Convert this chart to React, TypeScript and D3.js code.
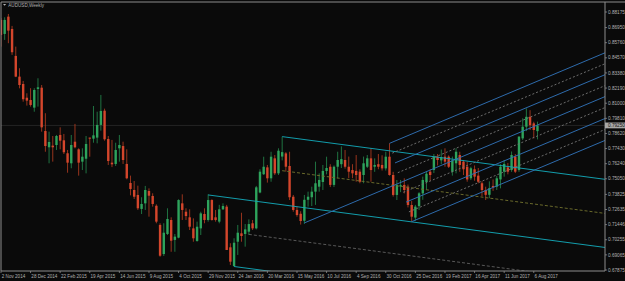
import React from 'react';
import * as d3 from 'd3';

const OPEN = [
  0.8755, 0.8645, 0.8781, 0.8684, 0.8472, 0.8309, 0.8251, 0.8143, 0.8125, 0.8065,
  0.8212, 0.8222, 0.7881, 0.7753, 0.7766, 0.7771, 0.7850, 0.7808, 0.7706, 0.7627,
  0.7797, 0.7737, 0.7640, 0.7663, 0.7829, 0.7821, 0.7829, 0.7929, 0.8041, 0.7818,
  0.7632, 0.7622, 0.7745, 0.7763, 0.7622, 0.7472, 0.7417, 0.7378, 0.7268, 0.7312,
  0.7409, 0.7370, 0.7293, 0.7142, 0.6913, 0.7071, 0.7181, 0.7024, 0.7042, 0.7312,
  0.7246, 0.7202, 0.7115, 0.7016, 0.7115, 0.7228, 0.7181, 0.7338, 0.7202, 0.7168,
  0.7265, 0.7286, 0.6966, 0.6819, 0.7010, 0.7076, 0.7071, 0.7089, 0.7155, 0.7115,
  0.7397, 0.7541, 0.7595, 0.7509, 0.7666, 0.7548, 0.7680, 0.7705, 0.7606, 0.7364,
  0.7260, 0.7230, 0.7175, 0.7340, 0.7360, 0.7404, 0.7443, 0.7480, 0.7567, 0.7600,
  0.7457, 0.7600, 0.7620, 0.7653, 0.7600, 0.7574, 0.7567, 0.7561, 0.7535, 0.7600,
  0.7666, 0.7600, 0.7620, 0.7614, 0.7587, 0.7679, 0.7535, 0.7378, 0.7445, 0.7457,
  0.7443, 0.7299, 0.7200, 0.7290, 0.7390, 0.7480, 0.7561, 0.7574, 0.7679, 0.7650,
  0.7679, 0.7679, 0.7560, 0.7627, 0.7692, 0.7640, 0.7600, 0.7509, 0.7580, 0.7530,
  0.7470, 0.7417, 0.7379, 0.7449, 0.7443, 0.7500, 0.7561, 0.7595, 0.7574, 0.7679,
  0.7574, 0.7823, 0.7915, 0.7993, 0.7941, 0.7880,
];
const HIGH = [
  0.8770, 0.8776, 0.8802, 0.8708, 0.8545, 0.8375, 0.8275, 0.8178, 0.8218, 0.8218,
  0.8296, 0.8243, 0.8021, 0.7876, 0.7842, 0.7850, 0.7910, 0.7858, 0.7732, 0.7850,
  0.7937, 0.7745, 0.7745, 0.7842, 0.7829, 0.8078, 0.8033, 0.8165, 0.8057, 0.7842,
  0.7811, 0.7789, 0.7850, 0.7797, 0.7737, 0.7530, 0.7488, 0.7451, 0.7360, 0.7449,
  0.7430, 0.7391, 0.7304, 0.7155, 0.7155, 0.7273, 0.7202, 0.7071, 0.7344, 0.7383,
  0.7273, 0.7265, 0.7194, 0.7168, 0.7246, 0.7273, 0.7383, 0.7344, 0.7260, 0.7300,
  0.7312, 0.7300, 0.6998, 0.7037, 0.7142, 0.7238, 0.7149, 0.7186, 0.7181, 0.7449,
  0.7580, 0.7679, 0.7614, 0.7718, 0.7692, 0.7745, 0.7836, 0.7715, 0.7718, 0.7378,
  0.7286, 0.7250, 0.7378, 0.7404, 0.7443, 0.7640, 0.7548, 0.7614, 0.7679, 0.7620,
  0.7610, 0.7718, 0.7760, 0.7732, 0.7680, 0.7620, 0.7692, 0.7580, 0.7680, 0.7692,
  0.7745, 0.7666, 0.7700, 0.7690, 0.7718, 0.7784, 0.7560, 0.7496, 0.7496, 0.7509,
  0.7460, 0.7330, 0.7300, 0.7400, 0.7522, 0.7560, 0.7580, 0.7700, 0.7700, 0.7735,
  0.7745, 0.7690, 0.7680, 0.7745, 0.7718, 0.7653, 0.7640, 0.7600, 0.7610, 0.7590,
  0.7485, 0.7443, 0.7485, 0.7500, 0.7527, 0.7620, 0.7653, 0.7630, 0.7720, 0.7700,
  0.7840, 0.7981, 0.8059, 0.8045, 0.7954, 0.7955,
];
const LOW = [
  0.8545, 0.8598, 0.8572, 0.8480, 0.8305, 0.8217, 0.8112, 0.8081, 0.8073, 0.8033,
  0.8073, 0.7876, 0.7718, 0.7627, 0.7640, 0.7732, 0.7737, 0.7700, 0.7553, 0.7588,
  0.7745, 0.7530, 0.7574, 0.7548, 0.7679, 0.7789, 0.7784, 0.7884, 0.7805, 0.7614,
  0.7597, 0.7606, 0.7640, 0.7622, 0.7501, 0.7375, 0.7346, 0.7260, 0.7228, 0.7260,
  0.7207, 0.7286, 0.7155, 0.6892, 0.6898, 0.7063, 0.6931, 0.6931, 0.7037, 0.7181,
  0.7181, 0.7102, 0.7010, 0.7010, 0.7063, 0.7155, 0.7168, 0.7176, 0.7168, 0.7155,
  0.7260, 0.6945, 0.6827, 0.6813, 0.6906, 0.7010, 0.6971, 0.7063, 0.7102, 0.7107,
  0.7391, 0.7535, 0.7475, 0.7482, 0.7535, 0.7535, 0.7650, 0.7561, 0.7338, 0.7246,
  0.7207, 0.7145, 0.7150, 0.7286, 0.7291, 0.7300, 0.7404, 0.7417, 0.7540, 0.7440,
  0.7440, 0.7509, 0.7590, 0.7585, 0.7510, 0.7510, 0.7482, 0.7470, 0.7470, 0.7590,
  0.7482, 0.7560, 0.7580, 0.7570, 0.7570, 0.7530, 0.7365, 0.7338, 0.7400, 0.7390,
  0.7280, 0.7168, 0.7175, 0.7260, 0.7340, 0.7420, 0.7490, 0.7550, 0.7610, 0.7620,
  0.7600, 0.7590, 0.7530, 0.7548, 0.7560, 0.7535, 0.7482, 0.7495, 0.7490, 0.7470,
  0.7367, 0.7338, 0.7353, 0.7410, 0.7417, 0.7430, 0.7522, 0.7540, 0.7560, 0.7550,
  0.7560, 0.7810, 0.7880, 0.7889, 0.7823, 0.7815,
];
const CLOSE = [
  0.8637, 0.8755, 0.8671, 0.8501, 0.8309, 0.8243, 0.8131, 0.8120, 0.8086, 0.8204,
  0.8225, 0.7910, 0.7763, 0.7795, 0.7753, 0.7842, 0.7805, 0.7714, 0.7632, 0.7771,
  0.7753, 0.7632, 0.7679, 0.7779, 0.7821, 0.7847, 0.7929, 0.8039, 0.7816, 0.7645,
  0.7619, 0.7732, 0.7771, 0.7653, 0.7509, 0.7425, 0.7364, 0.7273, 0.7307, 0.7417,
  0.7372, 0.7307, 0.7168, 0.6900, 0.7081, 0.7189, 0.7018, 0.7050, 0.7338, 0.7260,
  0.7212, 0.7128, 0.7037, 0.7128, 0.7233, 0.7181, 0.7338, 0.7181, 0.7181, 0.7265,
  0.7291, 0.6945, 0.6853, 0.7002, 0.7081, 0.7055, 0.7107, 0.7149, 0.7115, 0.7438,
  0.7561, 0.7600, 0.7509, 0.7679, 0.7548, 0.7726, 0.7715, 0.7600, 0.7360, 0.7260,
  0.7220, 0.7173, 0.7340, 0.7364, 0.7404, 0.7470, 0.7496, 0.7567, 0.7590, 0.7457,
  0.7600, 0.7653, 0.7660, 0.7600, 0.7561, 0.7548, 0.7535, 0.7482, 0.7627, 0.7666,
  0.7574, 0.7614, 0.7600, 0.7587, 0.7679, 0.7535, 0.7378, 0.7457, 0.7455, 0.7417,
  0.7299, 0.7207, 0.7286, 0.7391, 0.7496, 0.7545, 0.7535, 0.7679, 0.7653, 0.7675,
  0.7640, 0.7600, 0.7650, 0.7718, 0.7614, 0.7580, 0.7500, 0.7588, 0.7522, 0.7482,
  0.7417, 0.7379, 0.7432, 0.7438, 0.7509, 0.7600, 0.7622, 0.7561, 0.7692, 0.7561,
  0.7837, 0.7915, 0.7993, 0.7927, 0.7889, 0.7925,
];

const X_LABELS = [
  '2 Nov 2014', '28 Dec 2014', '22 Feb 2015', '19 Apr 2015', '14 Jun 2015', '9 Aug 2015',
  '4 Oct 2015', '29 Nov 2015', '24 Jan 2016', '20 Mar 2016', '15 May 2016', '10 Jul 2016',
  '4 Sep 2016', '30 Oct 2016', '25 Dec 2016', '19 Feb 2017', '16 Apr 2017', '11 Jun 2017',
  '6 Aug 2017',
];
const X_LABEL_STEP = 8;

const PRICE_TICKS = [
  '0.88175', '0.86950', '0.85760', '0.84570', '0.83380', '0.82190', '0.81000', '0.79810',
  '0.78620', '0.77430', '0.76240', '0.75050', '0.73825', '0.72635', '0.71446', '0.70255',
  '0.69065', '0.67875',
];
const BID = 0.7925;
const BID_LABEL = '0.79250';
const TITLE = 'AUDUSD,Weekly';

// Pitchfork anchors (bar index, price): P1, P2, P3
const LEFT_FORK_BARS = [56, 63, 76];
const LEFT_FORK_PRICES = [0.7378, 0.6815, 0.7837];
const RIGHT_FORK_BARS = [82, 105, 111];
const RIGHT_FORK_PRICES = [0.7158, 0.7784, 0.7168];
const RIGHT_LEVELS = [0, 0.125, 0.25, 0.375, 0.5, 0.625, 0.75, 0.875, 1];

const W = 625;
const H = 281;
const PL = 1, PR = 605, PT = 2, PB = 271;

const BG = '#0a0a0a';
const BULL = '#2ea35c';
const BEAR = '#d4462c';
const BULL_WICK = '#237f47';
const BEAR_WICK = '#a8391f';
const CYAN = '#13a4b4';
const BLUE = '#2f70b4';
const DASH_GRAY = '#727272';
const OLIVE = '#6e6e2c';
const AXIS = '#8c8c8c';
const TEXT = '#b0b0b0';
const FONT = 'Liberation Sans, Arial, sans-serif';

export default function App() {
  const x = d3.scaleLinear().domain([0, 163.25]).range([0.97, PR]);
  const y = d3.scaleLinear().domain([0.67875, 0.88175]).range([270, 12]);
  const endBar = 175;

  type Seg = { b0: number; p0: number; b1: number; p1: number; color: string; dash?: string };
  const forkLines = (bars: number[], prices: number[], levels: { f: number; color: string; dash?: string; start?: number }[]): Seg[] => {
    const mb = (bars[1] + bars[2]) / 2;
    const mp = (prices[1] + prices[2]) / 2;
    const s = (mp - prices[0]) / (mb - bars[0]);
    return levels.map((lv) => {
      let ab: number, ap: number;
      if (lv.f === 0.5) {
        ab = bars[0];
        ap = prices[0];
      } else {
        ab = bars[1] + lv.f * (bars[2] - bars[1]);
        ap = prices[1] + lv.f * (prices[2] - prices[1]);
      }
      const b0 = lv.start !== undefined ? lv.start : ab;
      return { b0, p0: ap + s * (b0 - ab), b1: endBar, p1: ap + s * (endBar - ab), color: lv.color, dash: lv.dash };
    });
  };

  const leftSegs = forkLines(LEFT_FORK_BARS, LEFT_FORK_PRICES, [
    { f: 0, color: CYAN },
    { f: 0.25, color: '#5c5c5c', dash: '3,2', start: 67 },
    { f: 0.5, color: CYAN },
    { f: 0.75, color: OLIVE, dash: '3,2', start: 76 },
    { f: 1, color: CYAN },
  ]);
  const rightSegs = forkLines(
    RIGHT_FORK_BARS,
    RIGHT_FORK_PRICES,
    RIGHT_LEVELS.map((f) => (f * 4) % 1 === 0 ? { f, color: BLUE } : { f, color: DASH_GRAY, dash: '2,2' })
  );

  const bidY = y(BID);

  return (
    <svg width={W} height={H} style={{ position: 'absolute', left: 0, top: 0, background: BG, display: 'block' }}>
      <defs>
        <clipPath id="plot">
          <rect x={PL} y={PT} width={PR - PL} height={PB - PT} />
        </clipPath>
      </defs>
      <rect x={0} y={0} width={W} height={H} fill={BG} />
      <g clipPath="url(#plot)">
        <line x1={PL} x2={PR} y1={bidY} y2={bidY} stroke="#242424" strokeWidth={1} />
        {OPEN.map((o, i) => {
          const c = CLOSE[i];
          const hi = Math.max(HIGH[i], o, c);
          const lo = Math.min(LOW[i], o, c);
          const bull = c >= o;
          const cx = x(i);
          const top = y(Math.max(o, c));
          const bot = y(Math.min(o, c));
          const h = Math.max(0.8, bot - top);
          return (
            <g key={i}>
              <line x1={cx} x2={cx} y1={y(hi)} y2={y(lo)} stroke={bull ? BULL_WICK : BEAR_WICK} strokeWidth={0.9} />
              <rect x={cx - 1.2} y={top} width={2.4} height={h} fill={bull ? BULL : BEAR} />
            </g>
          );
        })}
        {[...leftSegs, ...rightSegs].map((sg, k) => (
          <line
            key={k}
            x1={x(sg.b0)}
            y1={y(sg.p0)}
            x2={x(sg.b1)}
            y2={y(sg.p1)}
            stroke={sg.color}
            strokeWidth={0.95}
            strokeDasharray={sg.dash}
          />
        ))}
      </g>
      {/* frame */}
      <line x1={PL} x2={W} y1={PT} y2={PT} stroke={AXIS} strokeWidth={1} />
      <line x1={PL} x2={PL} y1={PT} y2={PB} stroke={AXIS} strokeWidth={1} />
      <line x1={PL} x2={PR} y1={PB} y2={PB} stroke={AXIS} strokeWidth={1} />
      <line x1={PR} x2={PR} y1={PT} y2={PB} stroke={AXIS} strokeWidth={1} />
      {/* title */}
      <polygon points="3,4 6.2,4 4.6,5.8" fill={TEXT} />
      <text x={8.3} y={6.9} fill={TEXT} fontSize={4.6} fontFamily={FONT}>{TITLE}</text>
      {/* price axis */}
      {PRICE_TICKS.map((t) => {
        const yy = y(parseFloat(t));
        return (
          <g key={t}>
            <line x1={PR} x2={PR + 2} y1={yy} y2={yy} stroke={AXIS} strokeWidth={0.8} />
            <text x={608} y={yy} dy="0.35em" fill={TEXT} fontSize={4.7} fontFamily={FONT}>{t}</text>
          </g>
        );
      })}
      <rect x={PR} y={bidY - 2.9} width={W - PR} height={5.8} fill="#a8a8a8" />
      <text x={608} y={bidY} dy="0.35em" fill="#111" fontSize={4.7} fontFamily={FONT}>{BID_LABEL}</text>
      {/* time axis */}
      {X_LABELS.map((t, k) => {
        const xx = x(k * X_LABEL_STEP);
        return (
          <g key={t}>
            <line x1={xx} x2={xx} y1={PB} y2={PB + 2} stroke={AXIS} strokeWidth={0.8} />
            <text x={xx + 0.8} y={278.2} fill={TEXT} fontSize={4.6} fontFamily={FONT}>{t}</text>
          </g>
        );
      })}
    </svg>
  );
}
